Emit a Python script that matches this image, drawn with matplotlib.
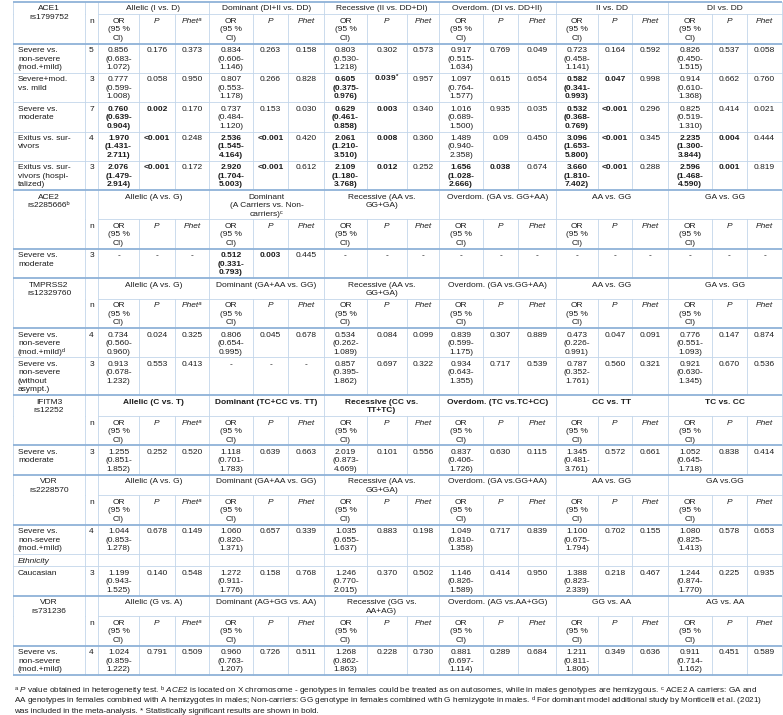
import matplotlib.pyplot as plt

plt.rcParams['font.family'] = ['Liberation Sans', 'DejaVu Sans']
plt.rcParams['mathtext.fontset'] = 'custom'
plt.rcParams['mathtext.rm'] = 'Liberation Sans'
plt.rcParams['mathtext.it'] = 'Liberation Sans:italic'
plt.rcParams['mathtext.bf'] = 'Liberation Sans:bold'
plt.rcParams['mathtext.default'] = 'regular'

# ---------------- table data ----------------
# ACE1
ace1_gene = "ACE1\nrs1799752"
ace1_groups = ["Allelic (I vs. D)", "Dominant (DI+II vs. DD)", "Recessive (II vs. DD+DI)",
               "Overdom. (DI vs. DD+II)", "II vs. DD", "DI vs. DD"]
ace1_rows = ["Severe vs.\nnon-severe\n(mod.+mild)", "Severe+mod.\nvs. mild", "Severe vs.\nmoderate",
             "Exitus vs. sur-\nvivors", "Exitus vs. sur-\nvivors (hospi-\ntalized)"]
ace1_n = [5, 3, 7, 4, 3]
ace1_or = [
    ["0.856 (0.683-1.072)", "0.834 (0.606-1.146)", "0.803 (0.530-1.218)", "0.917 (0.515-1.634)", "0.723 (0.458-1.141)", "0.826 (0.450-1.515)"],
    ["0.777 (0.599-1.008)", "0.807 (0.553-1.178)", "0.605 (0.375-0.976)", "1.097 (0.764-1.577)", "0.582 (0.341-0.993)", "0.914 (0.610-1.368)"],
    ["0.760 (0.639-0.904)", "0.737 (0.484-1.120)", "0.629 (0.461-0.858)", "1.016 (0.689-1.500)", "0.532 (0.368-0.769)", "0.825 (0.519-1.310)"],
    ["1.970 (1.431-2.711)", "2.536 (1.545-4.164)", "2.061 (1.210-3.510)", "1.489 (0.940-2.358)", "3.096 (1.653-5.800)", "2.235 (1.300-3.844)"],
    ["2.076 (1.479-2.914)", "2.920 (1.704-5.003)", "2.109 (1.180-3.768)", "1.656 (1.028-2.666)", "3.660 (1.810-7.402)", "2.596 (1.468-4.590)"],
]
ace1_p = [
    ["0.176", "0.263", "0.302", "0.769", "0.164", "0.537"],
    ["0.058", "0.266", "0.039*", "0.615", "0.047", "0.662"],
    ["0.002", "0.153", "0.003", "0.935", "<0.001", "0.414"],
    ["<0.001", "<0.001", "0.008", "0.09", "<0.001", "0.004"],
    ["<0.001", "<0.001", "0.012", "0.038", "<0.001", "0.001"],
]
ace1_phet = [
    ["0.373", "0.158", "0.573", "0.049", "0.592", "0.058"],
    ["0.950", "0.828", "0.957", "0.654", "0.998", "0.760"],
    ["0.170", "0.030", "0.340", "0.035", "0.296", "0.021"],
    ["0.248", "0.420", "0.360", "0.450", "0.345", "0.444"],
    ["0.172", "0.612", "0.252", "0.674", "0.288", "0.819"],
]
ace1_bold = [[], [2, 4], [0, 2, 4], [0, 1, 2, 4, 5], [0, 1, 2, 3, 4, 5]]

# ACE2
ace2_gene = "ACE2\nrs2285666ᵇ"
ace2_groups = ["Allelic (A vs. G)", "Dominant\n(A Carriers vs. Non-\ncarriers)ᶜ", "Recessive (AA vs.\nGG+GA)",
               "Overdom. (GA vs. GG+AA)", "AA vs. GG", "GA vs. GG"]
ace2_rows = ["Severe vs.\nmoderate"]
ace2_n = [3]
ace2_or = [["-", "0.512 (0.331-0.793)", "-", "-", "-", "-"]]
ace2_p = [["-", "0.003", "-", "-", "-", "-"]]
ace2_phet = [["-", "0.445", "-", "-", "-", "-"]]
ace2_bold = [[1]]

# TMPRSS2
tmp_gene = "TMPRSS2\nrs12329760"
tmp_groups = ["Allelic (A vs. G)", "Dominant (GA+AA vs. GG)", "Recessive (AA vs.\nGG+GA)",
              "Overdom. (GA vs.GG+AA)", "AA vs. GG", "GA vs. GG"]
tmp_rows = ["Severe vs.\nnon-severe\n(mod.+mild)ᵈ", "Severe vs.\nnon-severe\n(without\nasympt.)"]
tmp_n = [4, 3]
tmp_or = [
    ["0.734 (0.560-0.960)", "0.806 (0.654-0.995)", "0.534 (0.262-1.089)", "0.839 (0.599-1.175)", "0.473 (0.226-0.991)", "0.776 (0.551-1.093)"],
    ["0.913 (0.678-1.232)", "-", "0.857 (0.395-1.862)", "0.934 (0.643-1.355)", "0.787 (0.352-1.761)", "0.921 (0.630-1.345)"],
]
tmp_p = [
    ["0.024", "0.045", "0.084", "0.307", "0.047", "0.147"],
    ["0.553", "-", "0.697", "0.717", "0.560", "0.670"],
]
tmp_phet = [
    ["0.325", "0.678", "0.099", "0.889", "0.091", "0.874"],
    ["0.413", "-", "0.322", "0.539", "0.321", "0.536"],
]
tmp_bold = [[], []]

# IFITM3
ifi_gene = "IFITM3\nrs12252"
ifi_groups = ["Allelic (C vs. T)", "Dominant (TC+CC vs. TT)", "Recessive (CC vs.\nTT+TC)",
              "Overdom. (TC vs.TC+CC)", "CC vs. TT", "TC vs. CC"]
ifi_rows = ["Severe vs.\nmoderate"]
ifi_n = [3]
ifi_or = [["1.255 (0.851-1.852)", "1.118 (0.701-1.783)", "2.019 (0.873-4.669)", "0.837 (0.406-1.726)", "1.345 (0.481-3.761)", "1.052 (0.645-1.718)"]]
ifi_p = [["0.252", "0.639", "0.101", "0.630", "0.572", "0.838"]]
ifi_phet = [["0.520", "0.663", "0.556", "0.115", "0.661", "0.414"]]
ifi_bold = [[]]

# VDR rs2228570
vdr1_gene = "VDR\nrs2228570"
vdr1_groups = ["Allelic (A vs. G)", "Dominant (GA+AA vs. GG)", "Recessive (AA vs.\nGG+GA)",
               "Overdom. (GA vs.GG+AA)", "AA vs. GG", "GA vs.GG"]
vdr1_rows = ["Severe vs.\nnon-severe\n(mod.+mild)", "Ethnicity", "Caucasian"]
vdr1_n = [4, None, 3]
vdr1_or = [
    ["1.044 (0.853-1.278)", "1.060 (0.820-1.371)", "1.035 (0.655-1.637)", "1.049 (0.810-1.358)", "1.100 (0.675-1.794)", "1.080 (0.825-1.413)"],
    None,
    ["1.199 (0.943-1.525)", "1.272 (0.911-1.776)", "1.246 (0.770-2.015)", "1.146 (0.826-1.589)", "1.388 (0.823-2.339)", "1.244 (0.874-1.770)"],
]
vdr1_p = [
    ["0.678", "0.657", "0.883", "0.717", "0.702", "0.578"],
    None,
    ["0.140", "0.158", "0.370", "0.414", "0.218", "0.225"],
]
vdr1_phet = [
    ["0.149", "0.339", "0.198", "0.839", "0.155", "0.653"],
    None,
    ["0.548", "0.768", "0.502", "0.950", "0.467", "0.935"],
]
vdr1_bold = [[], [], []]

# VDR rs731236
vdr2_gene = "VDR\nrs731236"
vdr2_groups = ["Allelic (G vs. A)", "Dominant (AG+GG vs. AA)", "Recessive (GG vs.\nAA+AG)",
               "Overdom. (AG vs.AA+GG)", "GG vs. AA", "AG vs. AA"]
vdr2_rows = ["Severe vs.\nnon-severe\n(mod.+mild)"]
vdr2_n = [4]
vdr2_or = [["1.024 (0.859-1.222)", "0.960 (0.763-1.207)", "1.268 (0.862-1.863)", "0.881 (0.697-1.114)", "1.211 (0.811-1.806)", "0.911 (0.714-1.162)"]]
vdr2_p = [["0.791", "0.726", "0.228", "0.289", "0.349", "0.451"]]
vdr2_phet = [["0.509", "0.511", "0.730", "0.684", "0.636", "0.589"]]
vdr2_bold = [[]]

footnotes = [
    r"$^{a}$ $\mathit{P}$ value obtained in heterogeneity test. $^{b}$ $\mathit{ACE2}$ is located on X chromosome - genotypes in females could be treated as on autosomes, while in males genotypes are hemizygous. $^{c}$ ACE2 A carriers: GA and",
    r"AA genotypes in females combined with A hemizygotes in males; Non-carriers: GG genotype in females combined with G hemizygote in males. $^{d}$ For dominant model additional study by Monticelli et al. (2021)",
    "was included in the meta-analysis. * Statistically significant results are shown in bold.",
]

# ---------------- layout ----------------
col_x = [13, 85, 98, 139, 175, 209, 253, 288, 324, 367, 407, 439, 483, 518, 556, 598, 632, 668, 712, 747, 782]
group_x = [98, 209, 324, 439, 556, 668, 782]
LH = 8.5
PAD = 3.8
FS = 6.0
FS_NOTE = 5.9
TXT = '#1c1c1c'
THICK = '#8fb2d8'
THIN = '#c3d6ea'

fig = plt.figure(figsize=(7.83, 7.15), dpi=100)
ax = fig.add_axes([0, 0, 1, 1])
ax.set_xlim(0, 783)
ax.set_ylim(715, 0)
ax.axis('off')


def row_h(nl):
    return nl * LH + PAD


def mid(c):
    return (col_x[c] + col_x[c + 1]) / 2


def put(x, top, text, ha='center', **kw):
    for i, s in enumerate(text.split('\n')):
        y = top + PAD / 2 + (i + 1) * LH - 1.9
        ax.text(x, y, s, ha=ha, va='baseline', fontsize=FS, color=TXT, **kw)


def hline(y, x0=13, x1=782, thick=False):
    ax.plot([x0, x1], [y, y], color=THICK if thick else THIN,
            lw=1.3 if thick else 0.6, solid_capstyle='butt', zorder=3 if thick else 2)


def vline(x, y0, y1):
    ax.plot([x, x], [y0, y1], color=THIN, lw=0.6, zorder=1)


def fmt_or(s):
    if s == '-':
        return s
    est, ci = s.split(' ')
    lo, hi = ci.split('-')
    return f"{est}\n{lo}-\n{hi}"


def fmt_p(s):
    if s.endswith('*'):
        return r"$\mathbf{" + s[:-1] + r"^{*}}$"
    return s


def draw_section(y, gene, groups, rows, ns, ors, ps, phets, bold, head_bold=False, phet_a=True):
    g_lines = max(g.count('\n') + 1 for g in groups)
    gh = row_h(g_lines)
    sh = row_h(3)
    put(mid(0), y, gene)
    for k, g in enumerate(groups):
        put((group_x[k] + group_x[k + 1]) / 2, y, g,
            fontweight='bold' if head_bold else 'normal')
    for x in [13, 85] + group_x:
        vline(x, y, y + gh)
    hline(y + gh, 98, 782)
    ys = y + gh
    put(mid(1), ys, 'n')
    for k in range(6):
        c = 2 + 3 * k
        put(mid(c), ys, 'OR\n(95 %\nCI)')
        put(mid(c + 1), ys, 'P', style='italic')
        put(mid(c + 2), ys, 'Phetᵃ' if (k == 0 and phet_a) else 'Phet', style='italic')
    for x in col_x:
        vline(x, ys, ys + sh)
    yr = ys + sh
    hline(yr, thick=True)
    for r, label in enumerate(rows):
        if ors[r] is None:
            nl = 1
            put(18, yr, label, ha='left', style='italic')
        else:
            nl = max(label.count('\n') + 1, 3)
            put(18, yr, label, ha='left')
            put(mid(1), yr, str(ns[r]))
            for k in range(6):
                c = 2 + 3 * k
                wt = 'bold' if k in bold[r] else 'normal'
                put(mid(c), yr, fmt_or(ors[r][k]), fontweight=wt)
                put(mid(c + 1), yr, fmt_p(ps[r][k]), fontweight=wt)
                put(mid(c + 2), yr, phets[r][k])
        h = row_h(nl)
        for x in col_x:
            vline(x, yr, yr + h)
        yr += h
        hline(yr, thick=(r == len(rows) - 1))
    return yr


y = 2
hline(y, thick=True)
y = draw_section(y, ace1_gene, ace1_groups, ace1_rows, ace1_n, ace1_or, ace1_p, ace1_phet, ace1_bold)
y = draw_section(y, ace2_gene, ace2_groups, ace2_rows, ace2_n, ace2_or, ace2_p, ace2_phet, ace2_bold, phet_a=False)
y = draw_section(y, tmp_gene, tmp_groups, tmp_rows, tmp_n, tmp_or, tmp_p, tmp_phet, tmp_bold)
y = draw_section(y, ifi_gene, ifi_groups, ifi_rows, ifi_n, ifi_or, ifi_p, ifi_phet, ifi_bold, head_bold=True)
y = draw_section(y, vdr1_gene, vdr1_groups, vdr1_rows, vdr1_n, vdr1_or, vdr1_p, vdr1_phet, vdr1_bold)
y = draw_section(y, vdr2_gene, vdr2_groups, vdr2_rows, vdr2_n, vdr2_or, vdr2_p, vdr2_phet, vdr2_bold)

for i, f in enumerate(footnotes):
    ax.text(14, 694 + i * 9.5, f, ha='left', va='baseline', fontsize=FS_NOTE, color=TXT)

fig.savefig('out.png', dpi=100)
